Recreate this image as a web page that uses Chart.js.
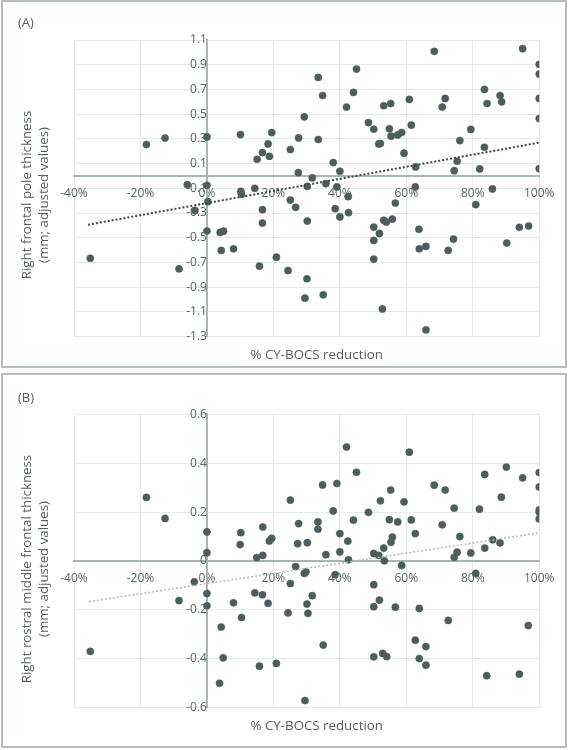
<!DOCTYPE html>
<html>
<head>
<meta charset="utf-8">
<script src="https://cdn.jsdelivr.net/npm/chart.js@4.4.1/dist/chart.umd.min.js"></script>
<style>
  body { margin: 0; background: #fff; }
  .box { position: absolute; left: 1px; width: 566px; border: 2px solid #b3bdbb; box-sizing: border-box; }
  #boxA { top: 0; height: 368px; }
  #boxB { top: 373px; height: 375px; }
  canvas { display: block; }
</style>
</head>
<body>
<div class="box" id="boxA"><canvas id="chartA" width="562" height="364"></canvas></div>
<div class="box" id="boxB"><canvas id="chartB" width="562" height="371"></canvas></div>
<script>
// tick values
const reductionTicks = [-40, -20, 0, 20, 40, 60, 80, 100];
const poleTicks = [-1.3, -1.1, -0.9, -0.7, -0.5, -0.3, -0.1, 0.1, 0.3, 0.5, 0.7, 0.9, 1.1];
const rostralTicks = [-0.6, -0.4, -0.2, 0, 0.2, 0.4, 0.6];

// (A) right frontal pole: % CY-BOCS reduction vs thickness
const poleReduction = [
  -35.1, -18.2, -12.6, -8.4, -5.9, -3.6, 0, 0, 0.3, 0, 4.0, 5.0, 4.3, 8.0, 10.2, 10.4, 10.1, 14.4,
  15.1, 16.7, 18.4, 18.8, 19.5, 16.7, 16.7, 15.8, 20.9, 24.4, 25.1, 25.1, 26.7, 27.6, 27.5, 29.3,
  30.2, 30.2, 30.1, 29.5, 31.7, 33.5, 33.5, 34.8, 35.0, 35.8, 38.0, 38.6, 39.1, 40.0, 40.0, 42.0,
  42.5, 42.6, 44.1, 45.0,
  68.4, 95.0, 100, 100, 100, 100, 100, 83.5, 84.3, 88.2, 88.7, 70.8, 71.7, 60.9, 61.5, 53.2, 55.3,
  48.6, 50.2, 54.9, 55.4, 57.4, 58.6, 51.7, 52.2, 59.3, 62.8, 62.7, 76.1, 79.4, 83.5, 75.3, 74.4,
  82.1, 85.9, 80.9, 56.7, 55.8, 53.2, 54.0, 50.2, 51.9, 50.2, 50.2, 63.8, 63.9, 65.9, 72.6, 74.2,
  90.2, 94.0, 96.8, 52.8, 65.9
];
const poleThickness = [
  -0.666, 0.254, 0.307, -0.752, -0.071, -0.279, 0.316, -0.076, -0.208, -0.446, -0.457, -0.447, -0.603, -0.589, -0.124, -0.149, 0.335, -0.100,
  0.135, 0.189, 0.259, 0.159, 0.351, -0.273, -0.381, -0.730, -0.657, -0.765, 0.214, -0.195, -0.254, 0.308, 0.027, 0.478,
  -0.084, -0.365, -0.832, -0.989, -0.016, 0.797, 0.295, 0.651, -0.962, -0.062, 0.108, -0.265, -0.089, 0.038, -0.332, 0.557,
  -0.168, -0.297, 0.676, 0.865,
  1.008, 1.030, 0.903, 0.824, 0.627, 0.465, 0.059, 0.700, 0.586, 0.651, 0.600, 0.557, 0.627, 0.619, 0.411, 0.568, 0.586,
  0.432, 0.378, 0.381, 0.322, 0.332, 0.351, 0.259, 0.262, 0.184, 0.073, -0.089, 0.286, 0.376, 0.232, 0.119, 0.043,
  0.057, -0.105, -0.232, -0.219, -0.349, -0.359, -0.373, -0.414, -0.465, -0.522, -0.673, -0.432, -0.589, -0.570, -0.603, -0.511,
  -0.543, -0.416, -0.405, -1.076, -1.246
];
const poleTrendX = [-35.8, 100];
const poleTrendY = [-0.395, 0.27];

// (B) right rostral middle frontal
const rostralReduction = [
  -35.1, -18.2, -12.6, -8.4, -3.8, 0, 0, 0, 0, 10.2, 10.0, 16.8, 15.0, 16.8, 18.8, 19.5, 25.1, 27.6,
  27.3, 30.2, 33.4, 33.4, 34.8, 35.8, 38.0, 39.1, 40.0, 40.0, 42.0, 42.4, 42.6, 44.1, 45.0, 4.3,
  4.9, 3.8, 8.0, 10.4, 14.4, 16.7, 18.4, 15.8, 20.9, 24.4, 25.1, 26.7, 29.3, 29.8, 30.1, 30.4,
  31.7, 35.0, 29.5, 38.6,
  60.9, 90.1, 83.6, 100, 95.0, 100, 68.4, 71.7, 55.3, 52.2, 59.3, 88.6, 48.6, 74.4, 82.0, 100, 100,
  100, 54.9, 57.4, 61.5, 70.8, 62.7, 55.8, 55.4, 76.1, 86.0, 88.2, 83.6, 53.2, 50.2, 51.7, 53.4,
  58.6, 75.3, 74.4, 79.4, 80.9, 50.2, 51.9, 50.2, 56.7, 63.9, 72.6, 96.7, 62.7, 65.9, 50.2, 52.9,
  54.1, 63.9, 65.9, 84.2, 94.0
];
const rostralThickness = [
  -0.370, 0.260, 0.174, -0.162, -0.085, 0.119, 0.034, -0.133, -0.183, 0.116, 0.067, 0.139, 0.014, 0.023, 0.082, 0.093, 0.249, 0.153,
  0.071, 0.075, 0.160, 0.130, 0.311, 0.026, 0.205, 0.317, 0.112, 0.037, 0.466, 0.081, 0.005, 0.167, 0.363, -0.270,
  -0.396, -0.500, -0.171, -0.231, -0.130, -0.138, -0.173, -0.430, -0.419, -0.212, -0.092, -0.023, -0.051, -0.044, -0.176, -0.214,
  -0.142, -0.344, -0.571, -0.056,
  0.445, 0.384, 0.354, 0.362, 0.340, 0.303, 0.310, 0.290, 0.290, 0.246, 0.242, 0.261, 0.199, 0.216, 0.212, 0.209, 0.199,
  0.172, 0.169, 0.160, 0.168, 0.148, 0.112, 0.098, 0.077, 0.100, 0.087, 0.074, 0.053, 0.053, 0.031, 0.023, 0.001,
  -0.018, 0.036, 0.015, 0.033, -0.051, -0.097, -0.160, -0.187, -0.189, -0.194, -0.243, -0.264, -0.324, -0.350, -0.392, -0.378,
  -0.391, -0.399, -0.426, -0.469, -0.463
];
const rostralTrendX = [-35.5, 100];
const rostralTrendY = [-0.166, 0.115];

Chart.defaults.font.family = "'Open Sans', sans-serif";
Chart.defaults.color = '#5b6363';

const dotColor = '#4f5b5c';
const gridColor = '#e4e9e9';
const axisColor = '#aab4b2';
const textColor = '#555d5d';

function toPoints(xs, ys) {
  return xs.map((x, i) => ({ x: x, y: ys[i] }));
}

// panel letter + axis titles, placed where the original has them
const panelText = {
  id: 'panelText',
  afterDraw(chart, args, o) {
    const ctx = chart.ctx;
    ctx.save();
    ctx.fillStyle = textColor;
    ctx.textBaseline = 'middle';
    ctx.font = "13px 'Open Sans', sans-serif";
    ctx.textAlign = 'left';
    ctx.fillText(o.label, o.labelX, o.labelY);
    ctx.font = "13.3px 'Open Sans', sans-serif";
    ctx.textAlign = 'center';
    ctx.fillText(o.xTitle, o.xTitleX, o.xTitleY);
    ctx.translate(o.yTitleX, o.yTitleY);
    ctx.rotate(-Math.PI / 2);
    o.yTitle.forEach((line, i) => ctx.fillText(line, 0, i * o.yTitleGap));
    ctx.restore();
  }
};

function drawScatter(id, cfg) {
  new Chart(document.getElementById(id), {
    type: 'scatter',
    plugins: [panelText],
    data: {
      datasets: [
        {
          data: toPoints(cfg.trendX, cfg.trendY),
          showLine: true,
          borderColor: cfg.trendColor,
          borderWidth: cfg.trendWidth,
          borderDash: [2, 2],
          pointRadius: 0,
          order: 0
        },
        {
          data: toPoints(cfg.xs, cfg.ys),
          backgroundColor: dotColor,
          borderColor: dotColor,
          borderWidth: 0.5,
          pointRadius: 3.6,
          order: 1
        }
      ]
    },
    options: {
      responsive: false,
      animation: false,
      layout: { padding: cfg.padding },
      plugins: {
        legend: { display: false },
        tooltip: { enabled: false },
        panelText: {
          label: cfg.label, labelX: 15, labelY: cfg.labelY,
          xTitle: '% CY-BOCS reduction', xTitleX: 313.7, xTitleY: cfg.xTitleY,
          yTitle: cfg.yTitle, yTitleX: 24.5, yTitleY: cfg.yTitleY, yTitleGap: 17
        }
      },
      scales: {
        x: {
          type: 'linear',
          min: -40,
          max: 100,
          position: { y: 0 },
          afterBuildTicks: s => { s.ticks = reductionTicks.map(v => ({ value: v })); },
          ticks: { callback: v => v + '%', font: { size: 12 }, padding: 10.5, maxRotation: 0, autoSkip: false },
          grid: { color: gridColor, drawTicks: false },
          border: { color: axisColor, width: 2 }
        },
        y: {
          type: 'linear',
          min: cfg.yTicks[0],
          max: cfg.yTicks[cfg.yTicks.length - 1],
          position: { x: 0 },
          afterBuildTicks: s => { s.ticks = cfg.yTicks.map(v => ({ value: v })); },
          ticks: { callback: v => String(v), font: { size: 12 }, padding: 11.5, autoSkip: false },
          grid: { color: gridColor, drawTicks: false },
          border: { color: axisColor, width: 2 }
        }
      }
    }
  });
}

drawScatter('chartA', {
  xs: poleReduction,
  ys: poleThickness,
  trendX: poleTrendX,
  trendY: poleTrendY,
  trendColor: '#3c4646',
  trendWidth: 2,
  yTicks: poleTicks,
  padding: { left: 71, right: 20, top: 38, bottom: 29.4 },
  label: '(A)',
  labelY: 21.3,
  xTitleY: 353,
  yTitleY: 193,
  yTitle: ['Right frontal pole thickness', '(mm; adjusted values)']
});

drawScatter('chartB', {
  xs: rostralReduction,
  ys: rostralThickness,
  trendX: rostralTrendX,
  trendY: rostralTrendY,
  trendColor: '#b4b9b9',
  trendWidth: 1.5,
  yTicks: rostralTicks,
  padding: { left: 71, right: 20, top: 39.3, bottom: 38.3 },
  label: '(B)',
  labelY: 23.3,
  xTitleY: 351.7,
  yTitleY: 194,
  yTitle: ['Right rostral middle frontal thickness', '(mm; adjusted values)']
});
</script>
</body>
</html>
